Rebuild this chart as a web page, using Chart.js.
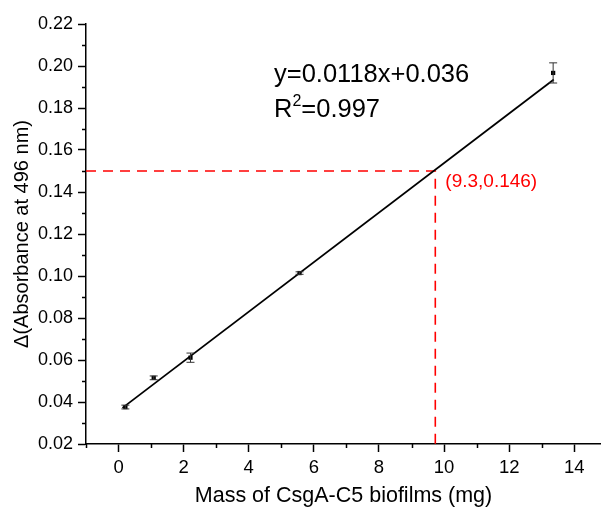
<!DOCTYPE html>
<html>
<head>
<meta charset="utf-8">
<script src="https://cdn.jsdelivr.net/npm/chart.js@4/dist/chart.umd.min.js"></script>
<style>
  html, body { margin: 0; padding: 0; background: #fff; }
  #wrap { width: 601px; height: 509px; position: relative; }
</style>
</head>
<body>
<div id="wrap"><canvas id="calibChart"></canvas></div>
<script>
// measured points (mass in mg vs delta absorbance)
const massX = [0.21, 1.08, 2.21, 5.56, 13.35];
const absY = [0.0376, 0.0515, 0.0611, 0.1014, 0.1967];
const absErr = [0.0009, 0.0009, 0.0022, 0.0006, 0.0048];

// linear fit line at its two ends
const fitX = [0.12, 13.37];
const fitY = [0.0372, 0.1936];

// red guide lines through the read-out point
const guideX = [-1, 9.73, 9.73];
const guideY = [0.15, 0.15, 0.02];

// minor tick positions
const xMinorTicks = [-1, 1, 3, 5, 7, 9, 11, 13];
const yMinorTicks = [0.03, 0.05, 0.07, 0.09, 0.11, 0.13, 0.15, 0.17, 0.19, 0.21];

const FONT = '"Liberation Sans", Arial, sans-serif';

// Error bars drawn through the chart scales
const errorBarPlugin = {
  id: 'errorBars',
  afterDatasetsDraw(chart) {
    const { ctx, scales: { x, y } } = chart;
    ctx.save();
    ctx.strokeStyle = '#333';
    ctx.lineWidth = 1;
    massX.forEach((mx, i) => {
      const px = x.getPixelForValue(mx);
      const top = y.getPixelForValue(absY[i] + absErr[i]);
      const bot = y.getPixelForValue(absY[i] - absErr[i]);
      ctx.beginPath();
      ctx.moveTo(px, top); ctx.lineTo(px, bot);
      ctx.moveTo(px - 4, top); ctx.lineTo(px + 4, top);
      ctx.moveTo(px - 4, bot); ctx.lineTo(px + 4, bot);
      ctx.stroke();
    });
    ctx.restore();
  }
};

// Short minor ticks on both axes
const minorTickPlugin = {
  id: 'minorTicks',
  afterDraw(chart) {
    const { ctx, scales: { x, y }, chartArea } = chart;
    ctx.save();
    ctx.strokeStyle = '#000';
    ctx.lineWidth = 1.5;
    ctx.beginPath();
    xMinorTicks.forEach(v => {
      const px = Math.round(x.getPixelForValue(v)) + 0.5;
      ctx.moveTo(px, chartArea.bottom);
      ctx.lineTo(px, chartArea.bottom + 4);
    });
    yMinorTicks.forEach(v => {
      const py = Math.round(y.getPixelForValue(v)) + 0.5;
      ctx.moveTo(chartArea.left, py);
      ctx.lineTo(chartArea.left - 4, py);
    });
    ctx.stroke();
    ctx.restore();
  }
};

// Fit equation and read-out label
const textPlugin = {
  id: 'annotations',
  afterDraw(chart) {
    const { ctx, scales: { x, y } } = chart;
    ctx.save();
    ctx.fillStyle = '#000';
    ctx.textBaseline = 'alphabetic';
    ctx.textAlign = 'left';
    ctx.font = '25.5px ' + FONT;
    const ex = 274;
    ctx.fillText('y=0.0118x+0.036', ex, 82);
    ctx.fillText('R', ex, 117);
    const rw = ctx.measureText('R').width;
    ctx.font = '16px ' + FONT;
    ctx.fillText('2', ex + rw, 106);
    const sw = ctx.measureText('2').width;
    ctx.font = '25.5px ' + FONT;
    ctx.fillText('=0.997', ex + rw + sw, 117);

    ctx.fillStyle = '#ff0000';
    ctx.font = '19px ' + FONT;
    const lx = x.getPixelForValue(guideX[1]) + 10;
    const ly = y.getPixelForValue(guideY[0]) + 16;
    ctx.fillText('(9.3,0.146)', lx, ly);
    ctx.restore();
  }
};

const ctx = document.getElementById('calibChart').getContext('2d');
new Chart(ctx, {
  type: 'scatter',
  data: {
    datasets: [
      {
        label: 'data',
        data: massX.map((v, i) => ({ x: v, y: absY[i] })),
        pointStyle: 'rect',
        pointRadius: 3,
        backgroundColor: '#000',
        borderColor: '#000',
        borderWidth: 0,
        order: 0
      },
      {
        label: 'fit',
        type: 'line',
        data: fitX.map((v, i) => ({ x: v, y: fitY[i] })),
        borderColor: '#000',
        borderWidth: 1.8,
        pointRadius: 0,
        fill: false,
        order: 1
      },
      {
        label: 'guide',
        type: 'line',
        data: guideX.map((v, i) => ({ x: v, y: guideY[i] })),
        borderColor: '#ff0000',
        borderWidth: 1.6,
        borderDash: [10, 7],
        pointRadius: 0,
        fill: false,
        order: 2
      }
    ]
  },
  options: {
    responsive: true,
    maintainAspectRatio: false,
    animation: false,
    layout: { autoPadding: false, padding: { top: 24, right: 0, left: 0, bottom: 0 } },
    plugins: {
      legend: { display: false },
      tooltip: { enabled: false }
    },
    scales: {
      x: {
        type: 'linear',
        min: -1,
        max: 14.82,
        afterFit: (s) => { s.height = 65; s.paddingRight = 0; s.paddingLeft = 0; },
        border: { color: '#000', width: 1.5 },
        grid: { drawOnChartArea: false, drawTicks: true, tickLength: 8, tickColor: '#000', tickWidth: 1.5 },
        ticks: {
          stepSize: 2,
          includeBounds: false,
          padding: 5,
          color: '#000',
          maxRotation: 0,
          font: { family: FONT, size: 18.5 }
        },
        title: {
          display: true,
          text: 'Mass of CsgA-C5 biofilms (mg)',
          color: '#000',
          padding: { top: 0, bottom: 0 },
          font: { family: FONT, size: 21.5 }
        }
      },
      y: {
        type: 'linear',
        min: 0.02,
        max: 0.22,
        afterFit: (s) => { s.width = 86; },
        border: { color: '#000', width: 1.5 },
        grid: { drawOnChartArea: false, drawTicks: true, tickLength: 8, tickColor: '#000', tickWidth: 1.5 },
        ticks: {
          stepSize: 0.02,
          padding: 5,
          color: '#000',
          font: { family: FONT, size: 18 },
          callback: (v) => v.toFixed(2)
        },
        title: {
          display: true,
          text: 'Δ(Absorbance at 496 nm)',
          color: '#000',
          padding: { top: 10, bottom: 0 },
          font: { family: FONT, size: 20 }
        }
      }
    }
  },
  plugins: [errorBarPlugin, minorTickPlugin, textPlugin]
});
</script>
</body>
</html>
